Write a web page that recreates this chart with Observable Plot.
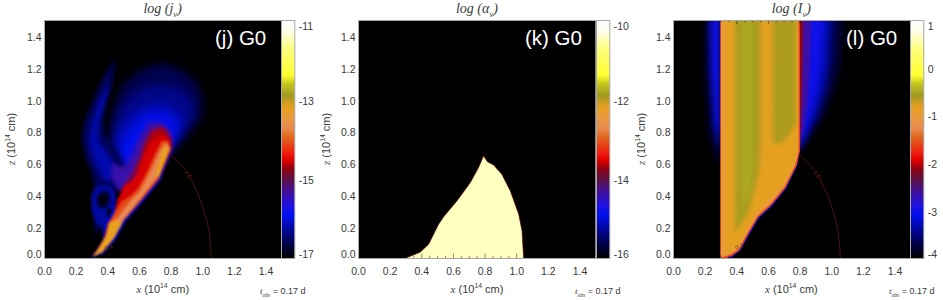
<!DOCTYPE html>
<html>
<head>
<meta charset="utf-8">
<script src="https://cdn.jsdelivr.net/npm/d3@7"></script>
<script src="https://cdn.jsdelivr.net/npm/@observablehq/plot@0.6"></script>
<style>
html,body{margin:0;padding:0;background:#fff;}
#page{position:relative;width:943px;height:300px;overflow:hidden;font-family:"Liberation Sans",sans-serif;color:#3a3a3a;}
#page svg{position:absolute;top:0;background:transparent;}
.lbl{position:absolute;white-space:nowrap;line-height:1;transform:translateX(-50%);}
.lbl i{font-family:"Liberation Serif",serif;font-style:italic;}
.lbl sub,.lbl sup{font-size:62%;line-height:0;}
.title{font-family:"Liberation Serif",serif;font-style:italic;font-size:14px;}
.axl{font-size:11px;}
.tag{color:#fff;font-size:20.5px;transform:none;}
.tobs{font-size:9px;transform:none;}
.rot{transform:translate(-50%,-50%) rotate(-90deg);}
</style>
</head>
<body>
<div id="page"></div>
<script>
// Shared rainbow palette (fraction of bar height -> colour)
const paletteStops = [0,.055,.126,.181,.223,.277,.336,.378,.412,.445,.517,.546,.588,.634,.685,.735,.769,.882,.958,1];
const paletteColors = ["#000000","#000040","#0008a0","#0010f0","#2010e0","#4010a0","#601040","#900010","#e00000","#f02010","#e07020","#e88850","#e89a40","#e8a020","#a09a20","#c8c820","#ffff30","#ffff80","#fffff0","#ffffff"];

const axisTicks = [0.2,0.4,0.6,0.8,1.0,1.2,1.4];
const xLabels = [0,0.2,0.4,0.6,0.8,1.0,1.2,1.4];
const minorTicks = [.05,.1,.15,.25,.3,.35,.45,.5,.55,.65,.7,.75,.85,.9,.95,1.05,1.1,1.15,1.25,1.3,1.35,1.45];

// Panel (j): emissivity, nested contour regions [level, [x,z]...]
const jSoft = [
 [-16.6,[[.80,.66],[.89,.76],[.98,.87],[1.0,.97],[.97,1.1],[.88,1.18],[.75,1.23],[.61,1.19],[.5,1.1],[.44,.96],[.41,.82],[.40,.70],[.5,.56],[.6,.55]]],
 [-16.35,[[.80,.68],[.88,.79],[.94,.88],[.94,.98],[.86,1.07],[.72,1.1],[.59,1.06],[.49,.97],[.44,.84],[.42,.73],[.5,.57],[.6,.55]]],
 [-16.1,[[.80,.69],[.86,.79],[.88,.88],[.78,.97],[.63,.96],[.52,.87],[.45,.75],[.5,.58],[.6,.55]]],
 [-15.9,[[.80,.7],[.84,.78],[.81,.88],[.70,.92],[.60,.87],[.52,.77],[.47,.67],[.52,.56],[.62,.58]]]
];
const jMid = [
 [-16.55,[[.45,1.26],[.43,1.12],[.40,1.0],[.37,.88],[.38,.78],[.45,.68],[.5,.56],[.46,.46],[.42,.34],[.38,.22],[.32,.15],[.31,.3],[.32,.42],[.30,.54],[.26,.64],[.235,.76],[.26,.88],[.31,1.0],[.37,1.14]]],
 [-16.2,[[.42,1.12],[.40,1.04],[.365,.93],[.34,.84],[.34,.74],[.40,.66],[.46,.58],[.42,.48],[.37,.5],[.31,.62],[.28,.74],[.30,.85],[.34,.98]]],
 [-15.4,[[.81,.70],[.80,.8],[.74,.86],[.66,.86],[.6,.77],[.55,.65],[.5,.57],[.43,.6],[.42,.52],[.47,.42],[.55,.45],[.7,.55]]],
 [-14.65,[[.80,.69],[.72,.50],[.60,.40],[.52,.36],[.50,.45],[.55,.52],[.60,.62],[.63,.72],[.68,.81],[.75,.83],[.80,.76]]]
];
const jSwirl = [
 [-16.25,[[.375,.46],[.43,.45],[.455,.38],[.44,.29],[.41,.2],[.375,.12],[.365,.2],[.33,.22],[.30,.3],[.295,.4],[.33,.45]]],
 [-16.8,[[.375,.43],[.41,.41],[.415,.36],[.38,.31],[.335,.33],[.33,.39]]],
 [-17,[[.372,.395],[.39,.385],[.385,.355],[.36,.345],[.348,.37]]],
 [-17,[[.405,.325],[.425,.30],[.42,.25],[.405,.25],[.395,.29]]]
];
const jSharp = [
 [-16,[[.81,.69],[.73,.49],[.62,.355],[.51,.23],[.45,.12],[.37,.03],[.295,.005],[.37,.12],[.385,.22],[.44,.32],[.5,.43],[.62,.6],[.75,.74]]],
 [-14.55,[[.80,.69],[.72,.50],[.61,.365],[.5,.24],[.44,.13],[.365,.04],[.30,.012],[.31,.015],[.375,.125],[.40,.22],[.44,.28],[.46,.365],[.5,.45],[.55,.49],[.59,.55],[.63,.65],[.68,.74],[.74,.78],[.79,.75]]],
 [-14.1,[[.80,.69],[.72,.50],[.61,.365],[.5,.24],[.44,.13],[.365,.04],[.30,.012],[.33,.05],[.385,.14],[.41,.23],[.45,.30],[.49,.36],[.54,.39],[.59,.44],[.65,.55],[.70,.66],[.74,.74],[.78,.74]]],
 [-13.72,[[.79,.70],[.71,.51],[.60,.37],[.5,.245],[.44,.13],[.365,.045],[.31,.014],[.35,.07],[.39,.15],[.42,.22],[.47,.27],[.54,.36],[.6,.42],[.67,.55],[.73,.68],[.77,.73]]],
 [-13.2,[[.31,.012],[.365,.04],[.44,.13],[.49,.22],[.45,.24],[.41,.23],[.385,.13]]],
 [-13.2,[[.79,.69],[.72,.51],[.70,.52],[.755,.71]]]
];
// Panel (k): absorption, one opaque region
const kRegion = [[-10.45,[[.30,0],[.306,.006],[.39,.04],[.443,.09],[.506,.216],[.538,.263],[.622,.363],[.707,.479],[.759,.574],[.79,.647],[.816,.609],[.854,.59],[.907,.53],[.96,.426],[1.013,.279],[1.034,.174],[1.044,.006],[1.045,0]]]];
// Panel (l): intensity, fans and vertical stripes
const lSoft = [
 [-3.75,[[.79,.66],[.85,.75],[.94,.88],[1.0,1.02],[1.05,1.2],[1.08,1.6],[.79,1.6]]],
 [-3.35,[[.79,.66],[.84,.76],[.91,.9],[.96,1.06],[.99,1.25],[1.01,1.6],[.79,1.6]]],
 [-3.0,[[.79,.67],[.83,.79],[.88,.94],[.92,1.1],[.94,1.28],[.96,1.6],[.79,1.6]]],
 [-3.7,[[.2,1.6],[.30,1.6],[.30,.6],[.27,.63],[.23,.8],[.21,1.1]]],
 [-3.0,[[.232,1.6],[.30,1.6],[.30,.68],[.258,.85],[.235,1.2]]]
];
const lMid = [
 [-2.65,[[.79,.68],[.825,.82],[.85,1.0],[.865,1.25],[.875,1.6],[.79,1.6]]],
 [-2.1,[[.79,.68],[.80,.8],[.81,1.0],[.815,1.25],[.82,1.6],[.79,1.6]]]
];
const lFringe = [
 [-3,[[.295,0],[.32,0],[.365,.007],[.422,.048],[.487,.163],[.54,.254],[.625,.333],[.713,.442],[.783,.587],[.80,.68],[.79,.7],[.30,.1]]]
];
const lMain = [
 [-1.6,[[.295,0],[.295,1.6],[.80,1.6],[.80,.68],[.78,.59],[.708,.445],[.62,.337],[.535,.258],[.482,.168],[.418,.052],[.363,.012],[.32,0]]],
 [-1.0,[[.300,.006],[.300,1.6],[.79,1.6],[.79,.68],[.77,.59],[.70,.45],[.613,.345],[.53,.268],[.477,.18],[.413,.062],[.36,.025]]],
 [-.82,[[.33,.04],[.33,1.6],[.785,1.6],[.785,.7],[.75,.58],[.69,.47],[.6,.37],[.52,.29],[.47,.2],[.41,.09],[.36,.05]]]
];
const lStripes = [
 [-.6,[[.39,1.6],[.54,1.6],[.54,.55],[.48,.31],[.39,.16]]],
 [-.5,[[.43,1.6],[.50,1.6],[.50,.5],[.47,.38],[.43,.3]]],
 [-.62,[[.625,1.6],[.775,1.6],[.775,.85],[.70,.74],[.63,.72]]],
 [-.7,[[.54,1.6],[.555,1.6],[.555,.7],[.54,.6]]]
];
// Thin optical-depth contour
const tauArc = [[.80,.655],[.85,.60],[.903,.542],[.95,.45],[.987,.363],[1.02,.26],[1.04,.174],[1.05,.08],[1.055,0]];

function rows(groups, tag){
  return groups.flatMap(([level,pts],i)=>pts.map(([x,y])=>({x,y,level,shape:tag+i})));
}
function fills(groups, name, blur){
  return Plot.line(rows(groups,name),{x:"x",y:"y",z:"shape",fill:"level",stroke:null,clip:"frame",
    render(index,scales,values,dimensions,context,next){
      const g=next(index,scales,values,dimensions,context);
      g.style.filter=`blur(${blur}px)`;
      return g;
    }});
}
function colorScale(lo,hi){
  return {type:"linear",domain:paletteStops.map(t=>lo+t*(hi-lo)),range:paletteColors,clamp:true};
}
const page = document.getElementById("page");
const TEXT="#3a3a3a", FONT='"Liberation Sans",sans-serif', H=300, MT=20, MB=42;

function tickMarks(){
  const dy=.027, dm=.014;
  const s={stroke:"#000",strokeWidth:.8,strokeOpacity:.6};
  return [
    Plot.ruleX(axisTicks,{x:d=>d,y1:0,y2:dy,...s}),
    Plot.ruleX(axisTicks,{x:d=>d,y1:1.5,y2:1.5-dy,...s}),
    Plot.ruleX(minorTicks,{x:d=>d,y1:0,y2:dm,...s}),
    Plot.ruleX(minorTicks,{x:d=>d,y1:1.5,y2:1.5-dm,...s}),
    Plot.ruleY(axisTicks,{y:d=>d,x1:0,x2:dy,...s}),
    Plot.ruleY(axisTicks,{y:d=>d,x1:1.5,x2:1.5-dy,...s})
  ];
}
function add(html,cls,left,top){
  const d=document.createElement("div");
  d.className="lbl "+cls; d.innerHTML=html;
  d.style.left=left+"px"; d.style.top=top+"px";
  page.appendChild(d); return d;
}
function panel({left,lo,hi,barTicks,marks,title,tag,tagX,zDx,tobsX}){
  const W=237.3, BAR=13.3, color=colorScale(lo,hi);
  const svg=Plot.plot({
    width:left+W+2-(left-44),height:H,marginLeft:44,marginRight:2,marginTop:MT,marginBottom:MB,
    x:{domain:[0,1.5]},y:{domain:[0,1.5]},color,
    style:{fontFamily:FONT,fontSize:"10.5px",color:TEXT,background:"transparent",overflow:"visible"},
    marks:[
      Plot.frame({fill:"#000",stroke:null}),
      ...marks,
      ...tickMarks(),
      Plot.frame({stroke:"#a8a8a8",strokeWidth:1}),
      Plot.axisX(xLabels,{anchor:"bottom",tickSize:0,tickPadding:9,label:null,tickFormat:d3.format(".1f"),fill:TEXT}),
      Plot.axisY(axisTicks,{anchor:"left",tickSize:0,tickPadding:3,label:null,dy:1.4,tickFormat:d3.format(".1f"),fill:TEXT}),
      Plot.axisY([0],{anchor:"left",tickSize:0,tickPadding:3,label:null,dy:-4,tickFormat:d3.format(".1f"),fill:TEXT})
    ]
  });
  svg.style.left=(left-44)+"px";
  page.appendChild(svg);
  const mid=barTicks.slice(1,-1);
  const bar=Plot.plot({
    width:BAR+26,height:H,marginLeft:0,marginRight:26,marginTop:MT,marginBottom:MB,
    x:{domain:[0,1],axis:null},y:{domain:[lo,hi]},color,
    style:{fontFamily:FONT,fontSize:"10.5px",color:TEXT,background:"transparent",overflow:"visible"},
    marks:[
      Plot.raster({fill:(x,y)=>y,x1:0,x2:1,y1:lo,y2:hi}),
      Plot.frame({stroke:"#a8a8a8",strokeWidth:1}),
      Plot.axisY(mid,{anchor:"right",tickSize:0,tickPadding:4,label:null,dy:1.4,tickFormat:String,fill:TEXT}),
      Plot.axisY([barTicks[0]],{anchor:"right",tickSize:0,tickPadding:4,label:null,dy:-4,tickFormat:String,fill:TEXT}),
      Plot.axisY([barTicks[barTicks.length-1]],{anchor:"right",tickSize:0,tickPadding:4,label:null,dy:6,tickFormat:String,fill:TEXT})
    ]
  });
  bar.style.left=(left+W)+"px";
  page.appendChild(bar);
  const c=left+W/2;
  add(title,"title",c,2);
  add("<i>x</i> (10<sup>14</sup> cm)","axl",c,284);
  add("<i>z</i> (10<sup>14</sup> cm)","axl rot",left+zDx,139);
  add(tag,"tag",tagX,28);
  add("<i>t<sub>obs</sub></i> = 0.17 d","tobs",tobsX,287);
}
function arcMarks(lab01){
  return [
    Plot.line(tauArc,{x:d=>d[0],y:d=>d[1],curve:"catmull-rom",stroke:"#5e1a12",strokeWidth:.8,clip:"frame"}),
    Plot.text(["1.0"],{x:[.907],y:[.53],rotate:62,fontSize:6,fill:"#7a2a1c",stroke:"#000",strokeWidth:1.5}),
    Plot.text(["0.1"],{x:[lab01[0]],y:[lab01[1]],rotate:-25,fontSize:6,fill:"#6b3a18"})
  ];
}
panel({left:44,lo:-17,hi:-11,barTicks:[-17,-15,-13,-11],title:"log (j<sub>ν</sub>)",tag:"(j) G0",tagX:215,zDx:-33,tobsX:260,
  marks:[fills(jSoft,"soft",4),fills(jMid,"mid",2),fills(jSwirl,"swirl",1.5),fills(jSharp,"sharp",0.9),...arcMarks([.405,.07])]});
panel({left:358.3,lo:-16,hi:-10,barTicks:[-16,-14,-12,-10],title:"log (α<sub>ν</sub>)",tag:"(k) G0",tagX:525,zDx:-32,tobsX:575,
  marks:[fills(kRegion,"edge",0.5),
    Plot.line(kRegion[0][1].slice(0,-1),{x:d=>d[0],y:d=>d[1],stroke:"#5a0a10",strokeWidth:.8,clip:"frame"})]});
panel({left:672.7,lo:-4,hi:1,barTicks:[-4,-3,-2,-1,0,1],title:"log (I<sub>ν</sub>)",tag:"(l) G0",tagX:846,zDx:-32,tobsX:889,
  marks:[fills(lSoft,"soft",3),fills(lMid,"mid",1.2),fills(lFringe,"fringe",0.6),fills(lMain,"edge",0.5),fills(lStripes,"stripes",2),...arcMarks([.415,.075])]});
</script>
</body>
</html>
